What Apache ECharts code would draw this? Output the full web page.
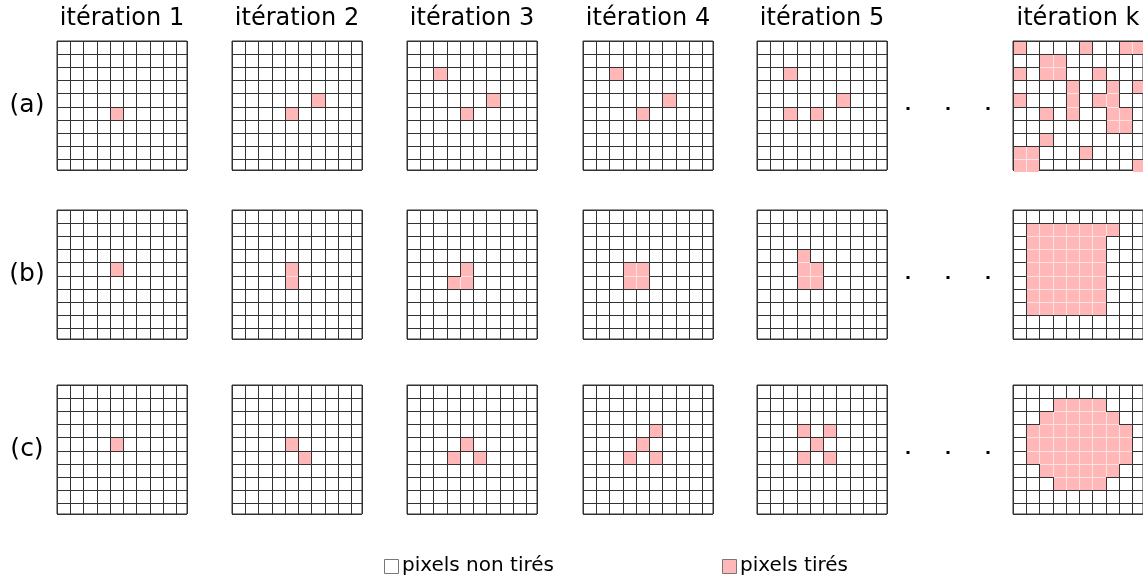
<!DOCTYPE html>
<html>
<head>
<meta charset="utf-8">
<script src="https://cdn.jsdelivr.net/npm/echarts@6/dist/echarts.min.js"></script>
<style>html,body{margin:0;padding:0;background:#fff}#c{width:1143px;height:584px}</style>
</head>
<body>
<div id="c"></div>
<script>
// ---- data ----
const iterationLabels = ['itération 1', 'itération 2', 'itération 3', 'itération 4', 'itération 5', 'itération k'];
const rowLabels = ['(a)', '(b)', '(c)'];
const legendLabels = ['pixels non tirés', 'pixels tirés'];
// drawn pixels as [column, row] (0-based from the top-left cell)
const cellsA = [
  [[4,5]],
  [[4,5],[6,4]],
  [[4,5],[6,4],[2,2]],
  [[4,5],[6,4],[2,2]],
  [[4,5],[6,4],[2,2],[2,5]],
  [[0,0],[5,0],[8,0],[9,0],
   [2,1],[3,1],
   [0,2],[2,2],[3,2],[6,2],
   [4,3],[7,3],[9,3],
   [0,4],[4,4],[6,4],[7,4],
   [2,5],[4,5],[7,5],[8,5],
   [7,6],[8,6],
   [2,7],
   [0,8],[1,8],[5,8],
   [0,9],[1,9],[9,9]]
];
const cellsB = [
  [[4,4]],
  [[4,4],[4,5]],
  [[4,4],[3,5],[4,5]],
  [[3,4],[4,4],[3,5],[4,5]],
  [[3,3],[3,4],[4,4],[3,5],[4,5]],
  [[1,1],[2,1],[3,1],[4,1],[5,1],[6,1],[7,1],
   [1,2],[2,2],[3,2],[4,2],[5,2],[6,2],
   [1,3],[2,3],[3,3],[4,3],[5,3],[6,3],
   [1,4],[2,4],[3,4],[4,4],[5,4],[6,4],
   [1,5],[2,5],[3,5],[4,5],[5,5],[6,5],
   [1,6],[2,6],[3,6],[4,6],[5,6],[6,6],
   [1,7],[2,7],[3,7],[4,7],[5,7],[6,7]]
];
const cellsC = [
  [[4,4]],
  [[4,4],[5,5]],
  [[4,4],[3,5],[5,5]],
  [[5,3],[4,4],[3,5],[5,5]],
  [[3,3],[5,3],[4,4],[3,5],[5,5]],
  [[3,1],[4,1],[5,1],[6,1],
   [2,2],[3,2],[4,2],[5,2],[6,2],[7,2],
   [1,3],[2,3],[3,3],[4,3],[5,3],[6,3],[7,3],[8,3],
   [1,4],[2,4],[3,4],[4,4],[5,4],[6,4],[7,4],[8,4],
   [1,5],[2,5],[3,5],[4,5],[5,5],[6,5],[7,5],[8,5],
   [2,6],[3,6],[4,6],[5,6],[6,6],[7,6],
   [3,7],[4,7],[5,7],[6,7]]
];
const rowsCells = [cellsA, cellsB, cellsC];

// ---- layout ----
const FONT = "'DejaVu Sans', Verdana, sans-serif";
const PINK = '#ffb7b7';
const LINE = '#333333';
const gridLefts = [57, 232, 407, 583, 757, 1013];
const gridTops = [41, 210, 385];
const GW = 130, GH = 129, AXMAX = 9.8;

function spo(p) { // same as echarts subPixelOptimize for lineWidth 1
  const d = Math.round(p * 2);
  return (d + 1) % 2 === 0 ? d / 2 : (d + 1) / 2;
}
function pix(p) { return Math.floor(spo(p)); }

const grids = [], xAxes = [], yAxes = [], series = [];
rowsCells.forEach((rowCells, r) => {
  rowCells.forEach((cells, c) => {
    const gi = grids.length;
    grids.push({ left: gridLefts[c], top: gridTops[r], width: GW, height: GH,
      show: true, borderColor: LINE, borderWidth: 1, backgroundColor: '#fff' });
    const ax = { gridIndex: gi, type: 'value', min: 0, max: AXMAX, interval: 1,
      axisLabel: { show: false }, axisTick: { show: false }, axisLine: { show: false },
      splitLine: { show: true, lineStyle: { color: LINE, width: 1 } } };
    xAxes.push(Object.assign({}, ax));
    yAxes.push(Object.assign({ inverse: true }, ax));
    const set = new Set(cells.map(d => d[0] + ',' + d[1]));
    series.push({
      type: 'custom', xAxisIndex: gi, yAxisIndex: gi, z: 5, silent: true,
      data: cells,
      renderItem: function (params, api) {
        const cx = api.value(0), cy = api.value(1);
        const p0 = api.coord([cx, cy]);
        const p1 = api.coord([cx + 1, cy + 1]);
        const xa = pix(p0[0]), xb = pix(p1[0]);
        const ya = pix(Math.min(p0[1], p1[1])), yb = pix(Math.max(p0[1], p1[1]));
        const children = [{ type: 'rect', shape: { x: xa + 1, y: ya + 1, width: xb - xa - 1, height: yb - ya - 1 },
          style: { fill: PINK } }];
        const right = set.has((cx + 1) + ',' + cy), down = set.has(cx + ',' + (cy + 1));
        const diag = set.has((cx + 1) + ',' + (cy + 1));
        if (right) children.push({ type: 'rect', shape: { x: xb, y: ya + 1, width: 1, height: yb - ya - 1 + ((down && diag) ? 1 : 0) }, style: { fill: '#fbe3e3' } });
        if (down) children.push({ type: 'rect', shape: { x: xa + 1, y: yb, width: xb - xa - 1, height: 1 }, style: { fill: '#fbe3e3' } });
        return { type: 'group', children: children };
      }
    });
  });
});

const graphics = [];
iterationLabels.forEach((t, c) => {
  graphics.push({ type: 'text', x: gridLefts[c] + GW / 2, y: 19,
    style: { text: t, font: '24px ' + FONT, fill: '#000', textAlign: 'center', textVerticalAlign: 'middle' } });
});
rowLabels.forEach((t, r) => {
  graphics.push({ type: 'text', x: 27, y: gridTops[r] + 64,
    style: { text: t, font: '25px ' + FONT, fill: '#000', textAlign: 'center', textVerticalAlign: 'middle' } });
  [908, 948, 988].forEach(x => {
    graphics.push({ type: 'rect', shape: { x: x - 1.5, y: gridTops[r] + 66, width: 3, height: 3 }, style: { fill: '#000' } });
  });
});
// legend
graphics.push({ type: 'rect', shape: { x: 384.5, y: 559.5, width: 14, height: 14 }, style: { fill: '#fff', stroke: '#777', lineWidth: 1 } });
graphics.push({ type: 'text', x: 402, y: 566, style: { text: legendLabels[0], font: '20px ' + FONT, fill: '#000', textVerticalAlign: 'middle' } });
graphics.push({ type: 'rect', shape: { x: 722.5, y: 559.5, width: 14, height: 14 }, style: { fill: PINK, stroke: '#777', lineWidth: 1 } });
graphics.push({ type: 'text', x: 740, y: 566, style: { text: legendLabels[1], font: '20px ' + FONT, fill: '#000', textVerticalAlign: 'middle' } });

const chart = echarts.init(document.getElementById('c'), null, { renderer: 'canvas' });
chart.setOption({
  animation: false,
  backgroundColor: '#fff',
  grid: grids, xAxis: xAxes, yAxis: yAxes, series: series,
  graphic: graphics
});
</script>
</body>
</html>
